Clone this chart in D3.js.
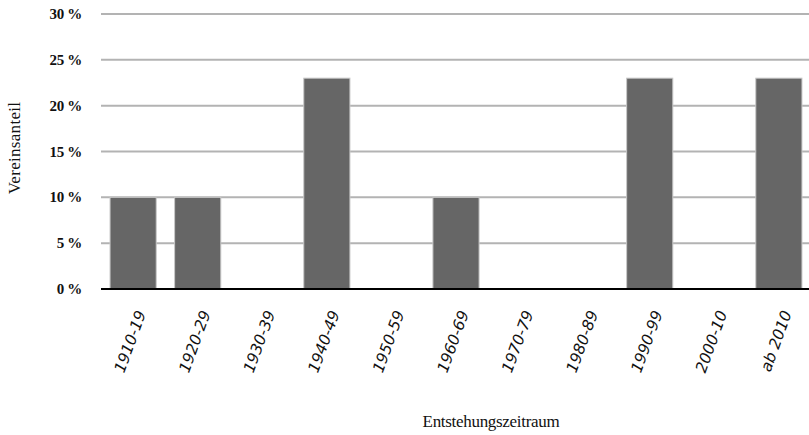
<!DOCTYPE html>
<html>
<head>
<meta charset="utf-8">
<script src="https://cdn.jsdelivr.net/npm/d3@7"></script>
<style>
  body { margin: 0; background: #fff; }
</style>
</head>
<body>
<div id="chart"></div>
<script>
var categories = ['1910-19', '1920-29', '1930-39', '1940-49', '1950-59', '1960-69',
    '1970-79', '1980-89', '1990-99', '2000-10', 'ab 2010'];
var values = [10, 10, 0, 23, 0, 10, 0, 0, 23, 0, 23];
var yTicks = [0, 5, 10, 15, 20, 25, 30];

var drawChart = function() {
    var width = 809, height = 435;
    var plotLeft = 101, plotRight = 809, plotTop = 14, plotBottom = 289;

    var svg = d3.select('#chart').append('svg')
        .attr('width', width)
        .attr('height', height);

    var x = d3.scaleBand()
        .domain(categories)
        .range([plotLeft, 811])
        .paddingInner(0.285)
        .paddingOuter(0.14);

    var y = d3.scaleLinear()
        .domain([0, 30])
        .range([plotBottom, plotTop]);

    // gridlines
    svg.append('g')
        .selectAll('line')
        .data(yTicks.filter(function(d) { return d > 0; }))
        .enter().append('line')
        .attr('x1', plotLeft).attr('x2', plotRight)
        .attr('y1', function(d) { return y(d); })
        .attr('y2', function(d) { return y(d); })
        .style('stroke', '#b3b3b3')
        .style('stroke-width', '2px');

    // y tick labels
    svg.append('g')
        .selectAll('text')
        .data(yTicks)
        .enter().append('text')
        .attr('x', 82)
        .attr('y', function(d) { return y(d) + 5; })
        .attr('text-anchor', 'end')
        .style('font-family', 'Liberation Serif')
        .style('font-weight', 'bold')
        .style('font-size', '15px')
        .style('letter-spacing', '-0.3px')
        .style('fill', '#111')
        .text(function(d) { return d + ' %'; });

    // bars
    var barData = categories.map(function(c, i) { return {cat: c, val: values[i]}; })
        .filter(function(d) { return d.val > 0; });

    svg.append('g')
        .selectAll('rect')
        .data(barData)
        .enter().append('rect')
        .attr('x', function(d) { return x(d.cat); })
        .attr('y', function(d) { return y(d.val); })
        .attr('width', x.bandwidth())
        .attr('height', function(d) { return y(0) - y(d.val); })
        .style('fill', '#666666')
        .style('stroke', '#c8c8c8')
        .style('stroke-width', '1px');

    // baseline
    svg.append('line')
        .attr('x1', plotLeft).attr('x2', plotRight)
        .attr('y1', y(0)).attr('y2', y(0))
        .style('stroke', '#000')
        .style('stroke-width', '2px');

    // x labels
    svg.append('g')
        .selectAll('text')
        .data(categories)
        .enter().append('text')
        .attr('transform', function(d) {
            var cx = x(d) + x.bandwidth() / 2 + 8;
            return 'translate(' + cx + ',' + 311 + ') rotate(-70)';
        })
        .attr('text-anchor', 'end')
        .attr('dy', '0.35em')
        .style('font-family', 'DejaVu Sans')
        .style('font-style', 'italic')
        .style('font-size', '15.5px')
        .style('fill', '#111')
        .text(function(d) { return d; });

    // axis titles
    svg.append('text')
        .attr('transform', 'translate(20,148) rotate(-90)')
        .attr('text-anchor', 'middle')
        .style('font-family', 'Liberation Serif')
        .style('font-size', '17px')
        .style('letter-spacing', '0.3px')
        .style('fill', '#111')
        .text('Vereinsanteil');

    svg.append('text')
        .attr('x', 491)
        .attr('y', 427)
        .attr('text-anchor', 'middle')
        .style('font-family', 'Liberation Serif')
        .style('font-size', '17px')
        .style('letter-spacing', '-0.3px')
        .style('fill', '#111')
        .text('Entstehungszeitraum');
};

drawChart();
</script>
</body>
</html>
